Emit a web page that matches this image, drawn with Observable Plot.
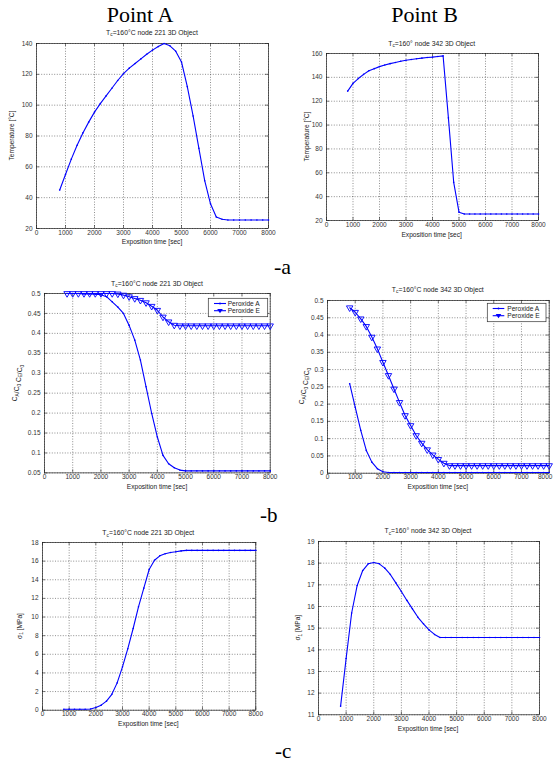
<!DOCTYPE html>
<html>
<head>
<meta charset="utf-8">
<script src="https://cdn.jsdelivr.net/npm/d3@7"></script>
<script src="https://cdn.jsdelivr.net/npm/@observablehq/plot@0.6"></script>
<style>
  body { margin: 0; background: white; }
  #root { position: relative; width: 554px; height: 762px; background: white; overflow: hidden; }
  #root > svg.plot-panel { position: absolute; }
  #overlay { position: absolute; left: 0; top: 0; pointer-events: none; }
</style>
</head>
<body>
<div id="root"></div>
<script>
// ---------- data ----------
const time = [800,1000,1200,1400,1600,1800,2000,2200,2400,2600,2800,3000,3200,3400,3600,3800,4000,4200,4400,4600,4800,5000,5200,5400,5600,5800,6000,6200,6400,6600,6800,7000,7200,7400,7600,7800,8000];

const tempA = [45,55,65,74,82,89,95.5,101,106,111,116,120.5,124,127,130,133,135.7,138,140,138.5,135,128,112,93,72,51,36,27.5,26,25.5,25.5,25.5,25.5,25.5,25.5,25.5,25.5];
const tempB = [128.5,135,139,142.5,145.5,147.3,149,150.3,151.5,152.5,153.5,154.4,155,155.6,156.1,156.6,157,157.5,158,106,52,27,25.5,25.5,25.5,25.5,25.5,25.5,25.5,25.5,25.5,25.5,25.5,25.5,25.5,25.5,25.5];

const perA_A = [0.5,0.5,0.5,0.499,0.499,0.498,0.497,0.492,0.479,0.466,0.45,0.42,0.383,0.333,0.266,0.199,0.14,0.094,0.073,0.063,0.057,0.055,0.055,0.055,0.055,0.055,0.055,0.055,0.055,0.055,0.055,0.055,0.055,0.055,0.055,0.055,0.055];
const perE_A = [0.5,0.5,0.5,0.5,0.5,0.5,0.5,0.5,0.5,0.499,0.496,0.492,0.4875,0.483,0.477,0.468,0.458,0.441,0.429,0.4205,0.419,0.419,0.419,0.419,0.419,0.419,0.419,0.419,0.419,0.419,0.419,0.419,0.419,0.419,0.419,0.419,0.419];
const perA_B = [0.259,0.191,0.124,0.066,0.032,0.013,0.004,0.002,0.002,0.002,0.002,0.002,0.002,0.002,0.002,0.002,0.002,0.002,0.002,0.002,0.002,0.002,0.002,0.002,0.002,0.002,0.002,0.002,0.002,0.002,0.002,0.002,0.002,0.002,0.002,0.002,0.002];
const perE_B = [0.479,0.466,0.447,0.425,0.394,0.36,0.321,0.283,0.244,0.205,0.167,0.138,0.109,0.087,0.068,0.053,0.04,0.029,0.022,0.022,0.022,0.022,0.022,0.022,0.022,0.022,0.022,0.022,0.022,0.022,0.022,0.022,0.022,0.022,0.022,0.022,0.022];

const sigA = [0.1,0.1,0.1,0.1,0.1,0.12,0.29,0.54,0.97,1.7,2.93,4.65,6.6,8.77,11.1,13.1,15.1,16.1,16.57,16.8,16.93,17.0,17.1,17.15,17.15,17.15,17.15,17.15,17.15,17.15,17.15,17.15,17.15,17.15,17.15,17.15,17.15];
const sigB = [11.4,13.6,15.7,16.97,17.66,17.97,18.03,17.97,17.77,17.48,17.09,16.69,16.28,15.89,15.5,15.2,14.92,14.71,14.57,14.57,14.57,14.57,14.57,14.57,14.57,14.57,14.57,14.57,14.57,14.57,14.57,14.57,14.57,14.57,14.57,14.57,14.57];

const xTicks = [0,1000,2000,3000,4000,5000,6000,7000,8000];
const yTicksTA = [20,40,60,80,100,120,140];
const yTicksTB = [20,40,60,80,100,120,140,160];
const yTicksCA = [0.05,0.1,0.15,0.2,0.25,0.3,0.35,0.4,0.45,0.5];
const yTicksCB = [0,0.05,0.1,0.15,0.2,0.25,0.3,0.35,0.4,0.45,0.5];
const yTicksSA = [0,2,4,6,8,10,12,14,16,18];
const yTicksSB = [11,12,13,14,15,16,17,18,19];

const legendLabels = ["Peroxide A", "Peroxide E"];

// ---------- helpers ----------
const BLUE = "#0000ff";
const rows = arr => time.map((t, i) => ({t, v: arr[i]}));
const dotLine = arr => [
  Plot.line(rows(arr), {x: "t", y: "v", stroke: BLUE, strokeWidth: 1.1}),
  Plot.dot(rows(arr), {x: "t", y: "v", r: 0.8, fill: BLUE, stroke: "none"})
];
const triLine = arr => [
  Plot.line(rows(arr), {x: "t", y: "v", stroke: BLUE, strokeWidth: 1.1}),
  Plot.dot(rows(arr), {x: "t", y: "v", symbol: "triangle", rotate: 180, r: 2.4, fill: "none", stroke: BLUE, strokeWidth: 0.9})
];

const panels = [
  {fx0: 36, fx1: 268, fy0: 43, fy1: 228, yDomain: [20,140], yTicks: yTicksTA, marks: dotLine(tempA)},
  {fx0: 325.7, fx1: 537.7, fy0: 53, fy1: 220, yDomain: [20,160], yTicks: yTicksTB, marks: dotLine(tempB)},
  {fx0: 44.3, fx1: 270, fy0: 293.3, fy1: 472.7, yDomain: [0.05,0.5], yTicks: yTicksCA, marks: [...dotLine(perA_A), ...triLine(perE_A)]},
  {fx0: 327, fx1: 548.7, fy0: 300, fy1: 472.7, yDomain: [0,0.5], yTicks: yTicksCB, marks: [...dotLine(perA_B), ...triLine(perE_B)], lastShift: -4},
  {fx0: 41.7, fx1: 255, fy0: 542.3, fy1: 710, yDomain: [0,18], yTicks: yTicksSA, marks: dotLine(sigA)},
  {fx0: 317.7, fx1: 538.7, fy0: 541, fy1: 714.3, yDomain: [11,19], yTicks: yTicksSB, marks: dotLine(sigB)}
];

const root = document.getElementById("root");
const GRID = {stroke: "#222", strokeOpacity: 0.85, strokeWidth: 0.6, strokeDasharray: "1,1.6"};
const TICK = {stroke: "#222", strokeWidth: 0.6};

for (const p of panels) {
  const ml = 30, mr = 8, mt = 4, mb = 12;
  const w = p.fx1 - p.fx0, h = p.fy1 - p.fy0;
  const [y0, y1] = p.yDomain;
  const tky = (y1 - y0) * 3 / h;
  const tkx = 8000 * 3 / w;
  const xAxisOpts = {tickSize: 0, tickPadding: 1.5, label: null, tickFormat: d => String(d), fill: "#333"};
  const xAxes = p.lastShift
    ? [Plot.axisX(xTicks.slice(0, -1), xAxisOpts), Plot.axisX(xTicks.slice(-1), {...xAxisOpts, dx: p.lastShift})]
    : [Plot.axisX(xTicks, xAxisOpts)];
  const chart = Plot.plot({
    width: w + ml + mr,
    height: h + mt + mb,
    marginLeft: ml, marginRight: mr, marginTop: mt, marginBottom: mb,
    style: {background: "transparent", overflow: "visible", fontFamily: "'Liberation Sans', Arial, sans-serif", fontSize: "6.5px"},
    x: {domain: [0, 8000], label: null},
    y: {domain: p.yDomain, label: null},
    marks: [
      Plot.gridX(xTicks, GRID),
      Plot.gridY(p.yTicks, GRID),
      Plot.ruleX(xTicks, {x: d => d, y1: y0, y2: y0 + tky, ...TICK}),
      Plot.ruleX(xTicks, {x: d => d, y1: y1, y2: y1 - tky, ...TICK}),
      Plot.ruleY(p.yTicks, {y: d => d, x1: 0, x2: tkx, ...TICK}),
      Plot.ruleY(p.yTicks, {y: d => d, x1: 8000, x2: 8000 - tkx, ...TICK}),
      ...xAxes,
      Plot.axisY(p.yTicks, {tickSize: 0, tickPadding: 4, label: null, tickFormat: d => String(d), fill: "#333"}),
      Plot.frame({stroke: "#222", strokeWidth: 0.7}),
      ...p.marks
    ]
  });
  chart.classList.add("plot-panel");
  chart.style.left = (p.fx0 - ml) + "px";
  chart.style.top = (p.fy0 - mt) + "px";
  root.appendChild(chart);
}

// ---------- text overlay ----------
const ov = d3.select(root).append("svg").attr("id", "overlay").attr("width", 554).attr("height", 762);
const SANS = "'Liberation Sans', Arial, sans-serif";
const SERIF = "'Liberation Serif', 'Times New Roman', serif";
function txt(x, y, html, opt = {}) {
  const fs = opt.size || 6.6;
  const t = ov.append("text")
    .attr("x", x).attr("y", y + fs * 0.35)
    .attr("text-anchor", opt.anchor || "middle")
    .attr("font-family", opt.family || SANS)
    .attr("font-size", fs)
    .attr("fill", opt.fill || "#222");
  if (opt.rotate) t.attr("transform", `rotate(-90 ${x} ${y})`).attr("y", y + fs * 0.35);
  t.html(html);
  return t;
}
const sub = s => `<tspan font-size="4.8" dy="1.6">${s}</tspan><tspan dy="-1.6">`;

// big labels
txt(140, 14.5, "Point A", {size: 22, family: SERIF, fill: "#000"});
txt(424.5, 14.5, "Point B", {size: 22, family: SERIF, fill: "#000"});
txt(274, 266, "-a", {size: 22, family: SERIF, fill: "#000", anchor: "start"});
txt(260, 515, "-b", {size: 21, family: SERIF, fill: "#000", anchor: "start"});
txt(275, 751, "-c", {size: 21, family: SERIF, fill: "#000", anchor: "start"});

// titles
txt(152, 32.3, `T${sub("c")}=160°C node 221 3D Object</tspan>`, {size: 6.8});
txt(431.7, 43.3, `T${sub("c")}=160° node 342 3D Object</tspan>`, {size: 6.8});
txt(157, 283.3, `T${sub("c")}=160°C node 221 3D Object</tspan>`, {size: 6.8});
txt(437.8, 289.3, `T${sub("c")}=160°C node 342 3D Object</tspan>`, {size: 6.8});
txt(148.3, 532.7, `T${sub("c")}=160°C node 221 3D Object</tspan>`, {size: 6.8});
txt(428, 530.7, `T${sub("c")}=160° node 342 3D Object</tspan>`, {size: 6.8});

// x labels
const XL = "Exposition time [sec]";
txt(152, 241.7, XL); txt(431.7, 234.3, XL); txt(157, 487, XL);
txt(437.8, 487, XL); txt(148.3, 723.3, XL); txt(428, 729, XL);

// y labels
txt(11.7, 135.5, "Temperature [°C]", {rotate: true});
txt(306.3, 136.5, "Temperature [°C]", {rotate: true});
const cLab = `C${sub("A")}</tspan>/C${sub("0")}</tspan>  C${sub("E")}</tspan>/C${sub("0")}</tspan>`;
txt(15, 383, cLab, {rotate: true});
txt(302, 386, cLab, {rotate: true});
const sLab = `σ${sub("1")} [MPa]</tspan>`;
txt(19.3, 626, sLab, {rotate: true});
txt(297.7, 627.7, sLab, {rotate: true});

// legends
function legend(x, y, w, h, lx0, lx1, tx) {
  const g = ov.append("g");
  g.append("rect").attr("x", x).attr("y", y).attr("width", w).attr("height", h)
    .attr("fill", "white").attr("stroke", "#333").attr("stroke-width", 0.7);
  const yA = y + 5.2, yE = y + 12.4, mx = (lx0 + lx1) / 2;
  g.append("line").attr("x1", lx0).attr("x2", lx1).attr("y1", yA).attr("y2", yA).attr("stroke", BLUE).attr("stroke-width", 1.1);
  g.append("circle").attr("cx", mx).attr("cy", yA).attr("r", 0.9).attr("fill", BLUE);
  g.append("line").attr("x1", lx0).attr("x2", lx1).attr("y1", yE).attr("y2", yE).attr("stroke", BLUE).attr("stroke-width", 1.1);
  g.append("path").attr("d", `M${mx - 2.8},${yE - 1.8}L${mx + 2.8},${yE - 1.8}L${mx},${yE + 2.6}Z`).attr("fill", BLUE);
  txt(tx, yA, legendLabels[0], {anchor: "start", size: 6.6});
  txt(tx, yE, legendLabels[1], {anchor: "start", size: 6.6});
}
legend(208.3, 298.3, 59.4, 18.4, 214, 226, 227.7);
legend(487.3, 303.3, 58.7, 18.4, 492.7, 504.3, 507.3);
</script>
</body>
</html>
